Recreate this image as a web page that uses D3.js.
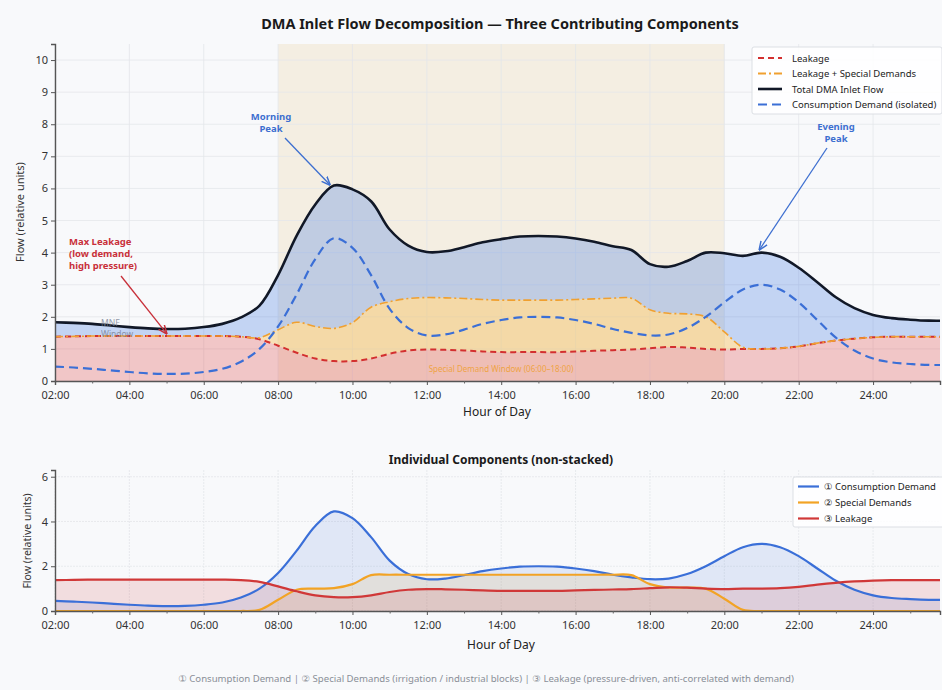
<!DOCTYPE html>
<html>
<head>
<meta charset="utf-8">
<script src="https://cdn.jsdelivr.net/npm/d3@7"></script>
<style>
  html, body { margin: 0; padding: 0; background: #f8f9fb; }
  svg { display: block; font-family: "Noto Sans", "DejaVu Sans", sans-serif; }
</style>
</head>
<body>
<div id="chart"></div>
<script>
// Hours of day (half-hour samples, 02:00 → 26:00)
const hours = d3.range(2, 26.01, 0.5);

// Consumption demand (isolated)
const consumption = [
  0.45, 0.42, 0.38, 0.33, 0.28, 0.24, 0.22, 0.23, 0.28, 0.38,
  0.60, 1.00, 1.70, 2.70, 3.80, 4.45, 4.15, 3.30, 2.25, 1.65,
  1.42, 1.45, 1.60, 1.78, 1.90, 1.98, 2.00, 1.98, 1.90, 1.78,
  1.62, 1.50, 1.42, 1.45, 1.65, 2.00, 2.45, 2.85, 3.00, 2.85,
  2.45, 1.90, 1.35, 0.95, 0.70, 0.58, 0.53, 0.50, 0.50
];

// Special demands (irrigation / industrial blocks)
const special = [
  0, 0, 0, 0, 0, 0, 0, 0, 0, 0,
  0, 0.05, 0.50, 0.95, 1.00, 1.02, 1.20, 1.60, 1.62, 1.62,
  1.62, 1.62, 1.62, 1.62, 1.62, 1.62, 1.62, 1.62, 1.62, 1.62,
  1.62, 1.60, 1.20, 1.05, 1.05, 1.00, 0.55, 0.05, 0, 0,
  0, 0, 0, 0, 0, 0, 0, 0, 0
];

// Leakage (pressure-driven)
const leakage = [
  1.38, 1.39, 1.40, 1.40, 1.40, 1.40, 1.40, 1.40, 1.40, 1.40,
  1.38, 1.30, 1.10, 0.88, 0.70, 0.62, 0.62, 0.70, 0.85, 0.95,
  0.98, 0.97, 0.95, 0.92, 0.90, 0.90, 0.90, 0.90, 0.92, 0.94,
  0.96, 0.98, 1.02, 1.06, 1.04, 1.00, 0.98, 1.00, 1.00, 1.02,
  1.08, 1.18, 1.26, 1.32, 1.36, 1.38, 1.38, 1.38, 1.38
];

const xTicks = [2, 4, 6, 8, 10, 12, 14, 16, 18, 20, 22, 24];
const topYTicks = [0, 1, 2, 3, 4, 5, 6, 7, 8, 9, 10];
const bottomYTicks = [0, 2, 4, 6];
const specialWindow = [8, 20];

const rows = hours.map((h, i) => ({
  h,
  c: consumption[i],
  s: special[i],
  l: leakage[i],
  ls: leakage[i] + special[i],
  total: leakage[i] + special[i] + consumption[i]
}));

const W = 942, H = 690;
const svg = d3.select('#chart').append('svg').attr('width', W).attr('height', H);
svg.append('rect').attr('width', W).attr('height', H).attr('fill', '#f8f9fb');

const defs = svg.append('defs');
const arrow = (id, color) => {
  defs.append('marker')
    .attr('id', id)
    .attr('viewBox', '0 0 10 10')
    .attr('refX', 9).attr('refY', 5)
    .attr('markerWidth', 7).attr('markerHeight', 7)
    .attr('orient', 'auto-start-reverse')
    .append('path')
    .attr('d', 'M0,1 L10,5 L0,9')
    .attr('fill', 'none')
    .attr('stroke', color)
    .attr('stroke-width', 1.6);
};
arrow('arrow-red', '#c8303a');
arrow('arrow-blue', '#3d6fd0');

const hh = h => String(h).padStart(2, '0') + ':00';
const curve = d3.curveCatmullRom.alpha(0.5);

// ---------- top panel ----------
const topBox = { left: 55, right: 940, top: 44, bottom: 381 };
const x = d3.scaleLinear().domain([2, 25.8]).range([topBox.left, topBox.right]);
const y = d3.scaleLinear().domain([0, 10.5]).range([topBox.bottom, topBox.top]);

const clipTop = defs.append('clipPath').attr('id', 'clip-top');
clipTop.append('rect').attr('x', topBox.left).attr('y', topBox.top)
  .attr('width', topBox.right - topBox.left).attr('height', topBox.bottom - topBox.top);

// special window shading
svg.append('rect')
  .attr('x', x(specialWindow[0]))
  .attr('y', topBox.top)
  .attr('width', x(specialWindow[1]) - x(specialWindow[0]))
  .attr('height', topBox.bottom - topBox.top)
  .attr('fill', '#f3ecdd')
  .attr('opacity', 0.85);

// grid
const gTop = svg.append('g');
gTop.selectAll('.vgrid').data(xTicks).enter().append('line')
  .attr('x1', d => x(d)).attr('x2', d => x(d))
  .attr('y1', topBox.top).attr('y2', topBox.bottom)
  .attr('stroke', '#e3e6ea').attr('stroke-width', 0.8);
gTop.selectAll('.hgrid').data(topYTicks).enter().append('line')
  .attr('x1', topBox.left).attr('x2', topBox.right)
  .attr('y1', d => y(d)).attr('y2', d => y(d))
  .attr('stroke', '#e3e6ea').attr('stroke-width', 0.8);

const areaG = svg.append('g').attr('clip-path', 'url(#clip-top)');
areaG.append('path').datum(rows)
  .attr('d', d3.area().x(d => x(d.h)).y0(y(0)).y1(d => y(d.l)).curve(curve))
  .attr('fill', '#e05050').attr('fill-opacity', 0.3);
areaG.append('path').datum(rows)
  .attr('d', d3.area().x(d => x(d.h)).y0(d => y(d.l)).y1(d => y(d.ls)).curve(curve))
  .attr('fill', '#f5b848').attr('fill-opacity', 0.38);
areaG.append('path').datum(rows)
  .attr('d', d3.area().x(d => x(d.h)).y0(d => y(d.ls)).y1(d => y(d.total)).curve(curve))
  .attr('fill', '#4a7fe0').attr('fill-opacity', 0.3);

const lineTop = key => d3.line().x(d => x(d.h)).y(d => y(d[key])).curve(curve);
areaG.append('path').datum(rows).attr('d', lineTop('l'))
  .attr('fill', 'none').attr('stroke', '#d32f2f').attr('stroke-width', 2)
  .attr('stroke-dasharray', '6,4');
areaG.append('path').datum(rows).attr('d', lineTop('ls'))
  .attr('fill', 'none').attr('stroke', '#f0a030').attr('stroke-width', 1.6)
  .attr('stroke-dasharray', '8,3,2,3');
areaG.append('path').datum(rows).attr('d', lineTop('total'))
  .attr('fill', 'none').attr('stroke', '#111827').attr('stroke-width', 2.6);
areaG.append('path').datum(rows).attr('d', lineTop('c'))
  .attr('fill', 'none').attr('stroke', '#3b6fd6').attr('stroke-width', 2.2)
  .attr('stroke-dasharray', '9,5');

// axes
const xAxisTop = svg.append('g').attr('transform', `translate(0,${topBox.bottom})`)
  .call(d3.axisBottom(x).tickValues(xTicks).tickFormat(hh).tickSize(4).tickPadding(6));
svg.append('g').attr('transform', `translate(0,${topBox.bottom})`)
  .call(d3.axisBottom(x).tickValues(d3.range(3, 26, 2)).tickFormat('').tickSize(2.5))
  .call(g => g.select('.domain').remove())
  .selectAll('line').attr('stroke', '#666');
const yAxisTop = svg.append('g').attr('transform', `translate(${topBox.left},0)`)
  .call(d3.axisLeft(y).tickValues(topYTicks).tickFormat(d3.format('d')).tickSize(4).tickPadding(3));

const styleAxis = g => {
  g.select('.domain').attr('stroke', '#555').attr('stroke-width', 1.4);
  g.selectAll('.tick line').attr('stroke', '#555');
  g.selectAll('.tick text').attr('fill', '#333').attr('font-size', 11)
    .attr('font-family', '"Liberation Sans Narrow", "Noto Sans", sans-serif');
};
styleAxis(xAxisTop);
styleAxis(yAxisTop);
yAxisTop.selectAll('.tick text').attr('font-family', '"Noto Sans", sans-serif').attr('font-size', 11);

svg.append('text').attr('x', 497).attr('y', 416).attr('text-anchor', 'middle')
  .attr('font-size', 12).attr('fill', '#222').text('Hour of Day');
svg.append('text').attr('transform', `translate(24,212) rotate(-90)`)
  .attr('text-anchor', 'middle').attr('font-size', 11).attr('fill', '#333')
  .text('Flow (relative units)');

// title
svg.append('text').attr('x', 500).attr('y', 29).attr('text-anchor', 'middle')
  .attr('font-size', 14.5).attr('font-weight', 'bold').attr('fill', '#1a1a1a')
  .text('DMA Inlet Flow Decomposition — Three Contributing Components');

// special window label
svg.append('text').attr('x', 501).attr('y', 372).attr('text-anchor', 'middle')
  .attr('font-size', 8).attr('fill', '#f0a030').attr('opacity', 0.85)
  .text('Special Demand Window (06:00–18:00)');

// MNF window label
svg.append('text').attr('x', 101).attr('y', 326).attr('font-size', 8.5)
  .attr('fill', '#7a8296').attr('opacity', 0.8)
  .selectAll('tspan').data(['MNF', 'Window']).enter().append('tspan')
  .attr('x', 101).attr('dy', (d, i) => i ? 11 : 0).text(d => d);

// annotations
const annotate = (lines, tx, ty, anchor, color, from, to, marker) => {
  svg.append('line')
    .attr('x1', from[0]).attr('y1', from[1]).attr('x2', to[0]).attr('y2', to[1])
    .attr('stroke', color).attr('stroke-width', 1.3)
    .attr('marker-end', `url(#${marker})`);
  svg.append('text').attr('x', tx).attr('y', ty).attr('text-anchor', anchor)
    .attr('font-size', 9.5).attr('font-weight', 'bold').attr('fill', color)
    .selectAll('tspan').data(lines).enter().append('tspan')
    .attr('x', tx).attr('dy', (d, i) => i ? 12 : 0).text(d => d);
};
annotate(['Max Leakage', '(low demand,', 'high pressure)'], 69, 245, 'start', '#c8303a',
  [121, 276], [x(5), y(1.42) - 2], 'arrow-red');
annotate(['Morning', 'Peak'], 271, 120, 'middle', '#3d6fd0',
  [285, 138], [x(9.5) - 4, y(6.05) - 2], 'arrow-blue');
annotate(['Evening', 'Peak'], 836, 130, 'middle', '#3d6fd0',
  [827, 148], [x(21) - 2, y(4.0) - 3], 'arrow-blue');

// top legend
const legTop = svg.append('g').attr('transform', 'translate(752,47)');
legTop.append('rect').attr('width', 190).attr('height', 67).attr('rx', 2)
  .attr('fill', '#ffffff').attr('fill-opacity', 0.85).attr('stroke', '#dcdfe4');
const legTopItems = [
  { label: 'Leakage', color: '#d32f2f', dash: '6,4', w: 2 },
  { label: 'Leakage + Special Demands', color: '#f0a030', dash: '8,3,2,3', w: 1.8 },
  { label: 'Total DMA Inlet Flow', color: '#111827', dash: null, w: 2.6 },
  { label: 'Consumption Demand (isolated)', color: '#3b6fd6', dash: '9,5', w: 2.2 }
];
legTopItems.forEach((d, i) => {
  const yy = 11 + i * 15.5;
  legTop.append('line').attr('x1', 6).attr('x2', 30).attr('y1', yy).attr('y2', yy)
    .attr('stroke', d.color).attr('stroke-width', d.w)
    .attr('stroke-dasharray', d.dash);
  legTop.append('text').attr('x', 40).attr('y', yy + 3.5).attr('font-size', 9.5)
    .attr('fill', '#222').text(d.label);
});

// ---------- bottom panel ----------
const botBox = { left: 55, right: 940, top: 470, bottom: 611 };
const x2 = d3.scaleLinear().domain([2, 25.8]).range([botBox.left, botBox.right]);
const y2 = d3.scaleLinear().domain([0, 6.3]).range([botBox.bottom, botBox.top]);

const clipBot = defs.append('clipPath').attr('id', 'clip-bot');
clipBot.append('rect').attr('x', botBox.left).attr('y', botBox.top)
  .attr('width', botBox.right - botBox.left).attr('height', botBox.bottom - botBox.top);

const gBot = svg.append('g');
gBot.selectAll('.vgrid').data(xTicks).enter().append('line')
  .attr('x1', d => x2(d)).attr('x2', d => x2(d))
  .attr('y1', botBox.top).attr('y2', botBox.bottom)
  .attr('stroke', '#e3e6ea').attr('stroke-width', 0.8).attr('stroke-dasharray', '2,1');
gBot.selectAll('.hgrid').data(bottomYTicks).enter().append('line')
  .attr('x1', botBox.left).attr('x2', botBox.right)
  .attr('y1', d => y2(d)).attr('y2', d => y2(d))
  .attr('stroke', '#e3e6ea').attr('stroke-width', 0.8).attr('stroke-dasharray', '2,1');

const botSeries = [
  { key: 'c', label: '① Consumption Demand', color: '#3a6fd8', fillOp: 0.12 },
  { key: 's', label: '② Special Demands', color: '#f2a325', fillOp: 0.12 },
  { key: 'l', label: '③ Leakage', color: '#d03838', fillOp: 0.14 }
];
const botG = svg.append('g').attr('clip-path', 'url(#clip-bot)');
botSeries.forEach(s => {
  botG.append('path').datum(rows)
    .attr('d', d3.area().x(d => x2(d.h)).y0(y2(0)).y1(d => y2(d[s.key])).curve(curve))
    .attr('fill', s.color).attr('fill-opacity', s.fillOp);
});
botSeries.forEach(s => {
  botG.append('path').datum(rows)
    .attr('d', d3.line().x(d => x2(d.h)).y(d => y2(d[s.key])).curve(curve))
    .attr('fill', 'none').attr('stroke', s.color).attr('stroke-width', 2.2);
});

const xAxisBot = svg.append('g').attr('transform', `translate(0,${botBox.bottom})`)
  .call(d3.axisBottom(x2).tickValues(xTicks).tickFormat(hh).tickSize(4).tickPadding(6));
svg.append('g').attr('transform', `translate(0,${botBox.bottom})`)
  .call(d3.axisBottom(x2).tickValues(d3.range(3, 26, 2)).tickFormat('').tickSize(2.5))
  .call(g => g.select('.domain').remove())
  .selectAll('line').attr('stroke', '#666');
const yAxisBot = svg.append('g').attr('transform', `translate(${botBox.left},0)`)
  .call(d3.axisLeft(y2).tickValues(bottomYTicks).tickFormat(d3.format('d')).tickSize(4).tickPadding(3));
styleAxis(xAxisBot);
styleAxis(yAxisBot);
yAxisBot.selectAll('.tick text').attr('font-family', '"Noto Sans", sans-serif').attr('font-size', 11);

svg.append('text').attr('x', 501).attr('y', 464).attr('text-anchor', 'middle')
  .attr('font-size', 12).attr('font-weight', 'bold').attr('fill', '#1a1a1a')
  .text('Individual Components (non-stacked)');
svg.append('text').attr('x', 501).attr('y', 649).attr('text-anchor', 'middle')
  .attr('font-size', 12).attr('fill', '#222').text('Hour of Day');
svg.append('text').attr('transform', `translate(31,541) rotate(-90)`)
  .attr('text-anchor', 'middle').attr('font-size', 10.5).attr('fill', '#333')
  .text('Flow (relative units)');

// bottom legend
const legBot = svg.append('g').attr('transform', 'translate(793,477)');
legBot.append('rect').attr('width', 152).attr('height', 50).attr('rx', 2)
  .attr('fill', '#ffffff').attr('fill-opacity', 0.85).attr('stroke', '#dcdfe4');
botSeries.forEach((s, i) => {
  const yy = 9.5 + i * 16;
  legBot.append('line').attr('x1', 5).attr('x2', 26).attr('y1', yy).attr('y2', yy)
    .attr('stroke', s.color).attr('stroke-width', 2.2);
  legBot.append('text').attr('x', 31).attr('y', yy + 3.5).attr('font-size', 9.5)
    .attr('fill', '#222').text(s.label);
});

// footer
svg.append('text').attr('x', 486).attr('y', 682).attr('text-anchor', 'middle')
  .attr('font-size', 9.6).attr('fill', '#8a8f98')
  .text('① Consumption Demand  |  ② Special Demands (irrigation / industrial blocks)  |  ③ Leakage (pressure-driven, anti-correlated with demand)');
</script>
</body>
</html>
